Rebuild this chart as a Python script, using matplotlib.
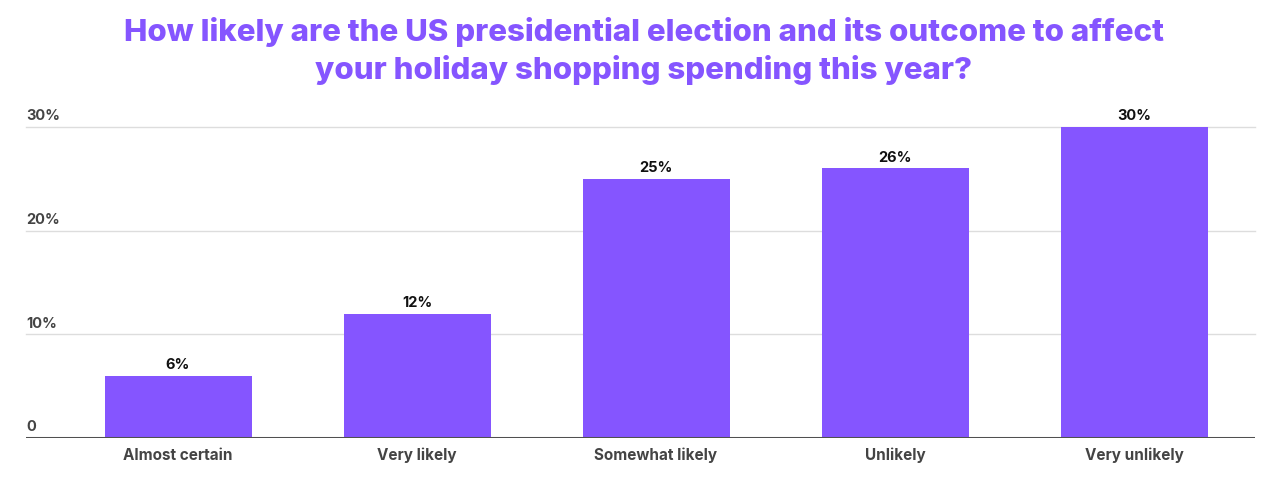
import matplotlib.pyplot as plt
import matplotlib.transforms as mtransforms

categories = ['Almost certain', 'Very likely', 'Somewhat likely', 'Unlikely', 'Very unlikely']
values = [6, 12, 25, 26, 30]
y_ticks = [0, 10, 20, 30]
y_tick_labels = ['0', '10%', '20%', '30%']

title = ('How likely are the US presidential election and its outcome to affect\n'
         'your holiday shopping spending this year?')

purple = '#8555FF'
grey_txt = '#444444'

plt.rcParams['font.family'] = ['Inter', 'DejaVu Sans']

fig = plt.figure(figsize=(12.87, 4.8), dpi=100)
ax = fig.add_axes([26 / 1287, 42 / 480, (1255 - 26) / 1287, (438 - 127) / 480])

x = range(len(categories))
ax.bar(x, values, width=0.615, color=purple, zorder=2)
for i, v in zip(x, values):
    ax.text(i, v + 0.35, f'{v}%', ha='center', va='bottom', fontsize=10.5,
            fontweight='bold', color='#111111')

ax.set_xlim(-0.636, 4.506)
ax.set_ylim(0, 30)

# gridlines and tick labels sit inside the plot on the left
for t, lab in zip(y_ticks, y_tick_labels):
    if t > 0:
        ax.axhline(t, color='#dddddd', lw=1, zorder=1, clip_on=False)
    trans = mtransforms.blended_transform_factory(ax.transAxes, ax.transData)
    ax.text(0, t + 0.35, lab, transform=trans, ha='left', va='bottom',
            fontsize=10.5, fontweight='bold', color=grey_txt, clip_on=False)

ax.axhline(0, color='#505050', lw=2.2, zorder=3)

ax.set_xticks(list(x))
ax.set_xticklabels(categories, fontsize=11, fontweight='bold', color=grey_txt)
ax.tick_params(axis='x', length=0, pad=7)
ax.set_yticks([])
for s in ax.spines.values():
    s.set_visible(False)

fig.text(0.5, 1 - 51 / 480, title, ha='center', va='center', fontsize=22.5,
         fontweight='heavy', color=purple, linespacing=1.3)

fig.savefig('out.png', dpi=100)
